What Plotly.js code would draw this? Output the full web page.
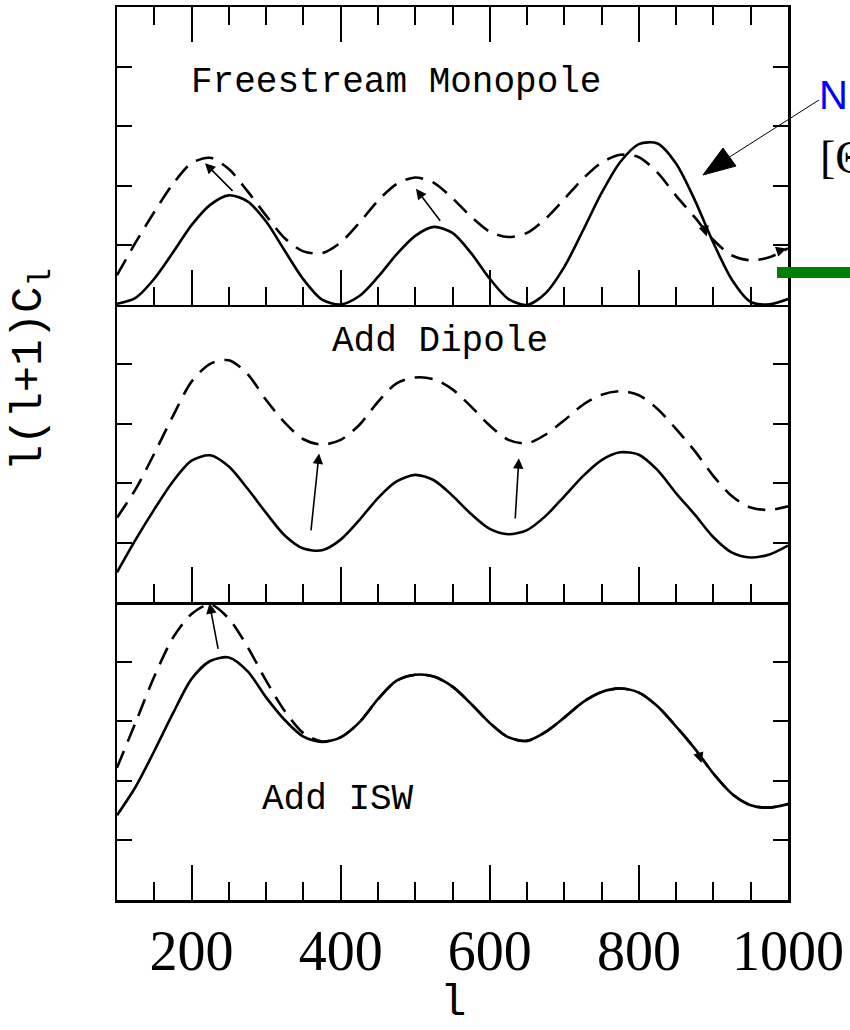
<!DOCTYPE html>
<html>
<head>
<meta charset="utf-8">
<script src="https://cdn.plot.ly/plotly-3.0.1.min.js"></script>
<style>html,body{margin:0;padding:0;background:#fff;} #plot{width:850px;height:1030px;}</style>
</head>
<body>
<div id="plot"></div>
<script>
// multipole l
const ell = [100,125,150,175,200,225,250,275,300,325,350,375,400,425,450,475,500,525,550,575,600,625,650,675,700,725,750,775,800,825,850,875,900,925,950,975,1000];
// top panel solid: freestream monopole (effective temperature)
const freestreamMono = [0.02,0.12,0.44,0.88,1.34,1.68,1.84,1.74,1.40,0.91,0.43,0.09,0.01,0.15,0.47,0.85,1.16,1.31,1.21,0.87,0.44,0.10,0.00,0.20,0.64,1.25,1.88,2.40,2.70,2.71,2.37,1.76,1.04,0.42,0.05,0.01,0.10];
// top panel dashed / middle panel solid: monopole
const monopole = [0.50,1.05,1.56,2.03,2.38,2.47,2.28,1.91,1.50,1.12,0.90,0.87,1.05,1.38,1.75,2.03,2.14,2.05,1.79,1.48,1.23,1.14,1.21,1.45,1.78,2.12,2.39,2.52,2.48,2.22,1.83,1.47,1.09,0.83,0.75,0.80,0.95];
// middle panel dashed / bottom panel solid: monopole + dipole
const withDipole = [1.42,1.90,2.50,3.13,3.71,4.01,4.07,3.84,3.40,3.02,2.74,2.65,2.73,2.98,3.37,3.68,3.78,3.75,3.58,3.29,2.97,2.73,2.67,2.82,3.06,3.32,3.49,3.55,3.48,3.25,2.91,2.54,2.12,1.78,1.59,1.55,1.61];
// bottom panel dashed: + ISW
const withISW = [2.22,2.98,3.75,4.40,4.80,4.96,4.72,4.25,3.68,3.17,2.80,2.66,2.73,2.98,3.37,3.68,3.78,3.75,3.58,3.29,2.97,2.73,2.67,2.82,3.06,3.32,3.49,3.55,3.48,3.25,2.91,2.54,2.12,1.78,1.59,1.55,1.61];

const majorTicks = [200,400,600,800,1000];
const majorText = ['200','400','600','800','1000'];
const minorTicks = [150,250,300,350,450,500,550,650,700,750,850,900,950];
const yTicks = [1,2,3,4];
const panelLabels = ['Freestream Monopole','Add Dipole','Add ISW'];

// shift arrows [x_head, y_head, x_tail, y_tail]
const arrowsTop = [[218,2.38,257,1.89],[501,1.95,535,1.39],[891,1.15,886,1.36],[998,0.95,986,0.90]];
const arrowsMid = [[371,2.50,360,1.18],[639,2.42,634,1.38]];
const arrowsBot = [[224,4.98,236,4.19],[884,2.30,879,2.50]];

const solid = {color:'#000', width:2.6, shape:'spline', smoothing:0.8};
const dashed = {color:'#000', width:2.6, shape:'spline', smoothing:0.8, dash:'18px,10px'};

const traces = [
  {x:ell, y:freestreamMono, xaxis:'x3', yaxis:'y3', mode:'lines', line:solid},
  {x:ell, y:monopole, xaxis:'x3', yaxis:'y3', mode:'lines', line:dashed},
  {x:ell, y:monopole, xaxis:'x2', yaxis:'y2', mode:'lines', line:solid},
  {x:ell, y:withDipole, xaxis:'x2', yaxis:'y2', mode:'lines', line:dashed},
  {x:ell, y:withDipole, xaxis:'x', yaxis:'y', mode:'lines', line:solid},
  {x:ell, y:withISW, xaxis:'x', yaxis:'y', mode:'lines', line:dashed}
];

function xax(anchor, labels, mirror) {
  return {
    anchor: anchor, domain:[0,1], range:[100,1000],
    showline:true, linecolor:'#000', linewidth:2.5, mirror: mirror,
    ticks:'inside', tickmode:'array', tickvals:majorTicks, ticktext:majorText,
    ticklen:35, tickwidth:2, tickcolor:'#000',
    minor:{ticks:'inside', tickmode:'array', tickvals:minorTicks, ticklen:18, tickwidth:2, tickcolor:'#000', showgrid:false},
    showticklabels: labels, showgrid:false, zeroline:false,
    tickfont:{family:'Liberation Serif, serif', size:56, color:'#000'}
  };
}
function yax(anchor, dom) {
  return {
    anchor: anchor, domain: dom, range:[0,5],
    showline:true, linecolor:'#000', linewidth:2.5, mirror:'ticks',
    ticks:'inside', tickmode:'array', tickvals:yTicks, ticklen:15, tickwidth:2, tickcolor:'#000',
    showticklabels:false, showgrid:false, zeroline:false
  };
}

const lblFont = {family:'Liberation Mono, monospace', size:36, color:'#000'};
const annotations = [
  {xref:'x3', yref:'y3', x:474, y:3.74, text:panelLabels[0], showarrow:false, font:lblFont, xanchor:'center', yanchor:'middle'},
  {xref:'x2', yref:'y2', x:533, y:4.39, text:panelLabels[1], showarrow:false, font:lblFont, xanchor:'center', yanchor:'middle'},
  {xref:'x', yref:'y', x:396, y:1.69, text:panelLabels[2], showarrow:false, font:lblFont, xanchor:'center', yanchor:'middle'},
  {xref:'paper', yref:'paper', x:0.5, y:-0.1155, text:'l', showarrow:false, xanchor:'center', yanchor:'middle',
   font:{family:'Liberation Mono, monospace', size:44, color:'#000'}},
  {xref:'paper', yref:'paper', x:-0.127, y:0.594, text:'l(l+1)C<sub>l</sub>', showarrow:false, textangle:-90,
   xanchor:'center', yanchor:'middle', font:{family:'Liberation Mono, monospace', size:44, color:'#000'}},
  {xref:'paper', yref:'paper', x:1.0432, y:0.9015, text:'N', showarrow:false, xanchor:'left', yanchor:'middle',
   font:{family:'Liberation Sans, Arial, sans-serif', size:40, color:'#0000ff'}},
  {xref:'paper', yref:'paper', x:1.0447, y:0.832, text:'[Θ', showarrow:false, xanchor:'left', yanchor:'middle',
   font:{family:'Liberation Serif, serif', size:46, color:'#000'}}
];
function addArrows(list, xr, yr) {
  list.forEach(a => annotations.push({xref:xr, yref:yr, axref:xr, ayref:yr, x:a[0], y:a[1], ax:a[2], ay:a[3],
    text:'', showarrow:true, arrowhead:2, arrowsize:1.3, arrowwidth:1.6, arrowcolor:'#000', standoff:0}));
}
addArrows(arrowsTop, 'x3', 'y3');
addArrows(arrowsMid, 'x2', 'y2');
addArrows(arrowsBot, 'x', 'y');

const shapes = [
  {type:'line', xref:'paper', yref:'paper', x0:0.9128, y0:0.8320, x1:1.0462, y1:0.8959, line:{color:'#000', width:1}, layer:'above'},
  {type:'path', xref:'paper', yref:'paper', path:'M0.8733,0.8119 L0.9031,0.8421 L0.9225,0.8219 Z', fillcolor:'#000', line:{color:'#000', width:1}, layer:'above'},
  {type:'rect', xref:'paper', yref:'paper', x0:0.9836, x1:1.11, y0:0.6965, y1:0.7088, fillcolor:'#008000', line:{width:0}, layer:'above'}
];

const layout = {
  width:850, height:1030,
  margin:{l:117, r:62, t:7, b:130, pad:0},
  paper_bgcolor:'#fff', plot_bgcolor:'#fff',
  showlegend:false,
  xaxis: xax('y', true, false),
  xaxis2: xax('y2', false, false),
  xaxis3: xax('y3', false, 'ticks'),
  yaxis: yax('x', [0,0.3337]),
  yaxis2: yax('x2', [0.3337,0.6663]),
  yaxis3: yax('x3', [0.6663,1]),
  annotations: annotations,
  shapes: shapes
};

Plotly.newPlot('plot', traces, layout, {staticPlot:true, displayModeBar:false});
</script>
</body>
</html>
